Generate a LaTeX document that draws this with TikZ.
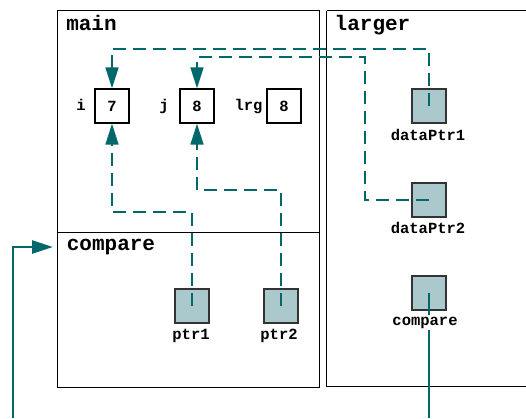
\documentclass[tikz,border=0pt]{standalone}
\usepackage{fontspec}
\setmonofont{Liberation Mono}
\usetikzlibrary{arrows.meta}
\definecolor{tealc}{HTML}{00686B}
\definecolor{ptrfill}{HTML}{ABC9CC}
\newcommand\lblfont{\ttfamily\bfseries\fontsize{15.5}{16}\selectfont}
\newcommand\ttlfont{\ttfamily\bfseries\fontsize{21}{22}\selectfont}
\tikzset{
 frame/.style={draw=black, line width=1.3pt, anchor=north west, inner sep=0pt},
 frameline/.style={draw=black, line width=1.3pt},
 valbox/.style={draw=black, line width=1.3pt, minimum size=34pt, inner sep=0pt, font=\lblfont},
 ptrbox/.style={draw=black!80, fill=ptrfill, line width=1.3pt, minimum size=34pt, inner sep=0pt},
 lbl/.style={font=\lblfont, anchor=base, inner sep=0pt},
 ttl/.style={font=\ttlfont, anchor=base, inner sep=0pt},
 ptrline/.style={draw=tealc, line width=1.6pt, dash pattern=on 13pt off 7pt},
 ptrtip/.style={-{Triangle[length=21pt,width=13pt]}, tealc},
 callline/.style={draw=tealc, line width=2.6pt},
}
\begin{document}
\begin{tikzpicture}[x=1pt,y=-1pt]
\useasboundingbox (0,0) rectangle (526,418);
% frames
\node[frame, minimum width=262pt, minimum height=222pt] (mainf) at (57,10) {};
\node[frame, minimum width=262pt, minimum height=155pt] (cmpf) at (57,232) {};
\coordinate (lgne) at (526,10.5);
\coordinate (lgnw) at (326.5,10.5);
\coordinate (lgsw) at (326.5,386.5);
\coordinate (lgse) at (526,386.5);
\draw[frameline] (lgnw) -- (lgne);
\draw[frameline] (lgnw) -- (lgsw);
\draw[frameline] (lgsw) -- (lgse);
\node[ttl] (tmain) at (91.5,30.5) {main};
\node[ttl] (tlarg) at (372.5,30) {larger};
\node[ttl] (tcmp) at (111,250) {compare};
% value boxes
\node[valbox] (i) at (112,106) {7};
\node[valbox] (j) at (197,106) {8};
\node[valbox] (lrg) at (284,106) {8};
\node[lbl] (li) at (81,110.5) {i};
\node[lbl] (lj) at (164,110.5) {j};
\node[lbl] (llrg) at (248.5,110.5) {lrg};
% pointer boxes
\node[ptrbox] (dp1) at (429,106) {};
\node[ptrbox] (dp2) at (429,200) {};
\node[ptrbox] (cmpp) at (429,293) {};
\node[ptrbox] (p1) at (192,306) {};
\node[ptrbox] (p2) at (281,306) {};
\node[lbl] (ldp1) at (428,140) {dataPtr1};
\node[lbl] (ldp2) at (428,233) {dataPtr2};
\node[lbl] (lp1) at (191,339) {ptr1};
\node[lbl] (lp2) at (279,339) {ptr2};
% pointer connectors
\draw[ptrline, ptrtip] (dp1.center) -- (dp1.center |- 0,49) -- (i.north |- 0,49) -- (i.north);
\draw[ptrline, ptrtip] (dp2.center) -- (365,0 |- dp2.center) -- (365,57) -- (j.north |- 0,57) -- (j.north);
\draw[ptrline, ptrtip] (p1.center) -- (p1.center |- 0,212) -- (i.south |- 0,212) -- (i.south);
\draw[ptrline, ptrtip] (p2.center) -- (p2.center |- 0,190) -- (j.south |- 0,190) -- (j.south);
% call connectors
\coordinate (callstart) at (13,418);
\coordinate (callend) at (53,247);
\draw[callline, -{Triangle[length=21pt,width=13pt]}] (callstart) |- (callend);
\coordinate (cmpend) at (429,418);
\draw[callline] (cmpp.center) -- (cmpend);
\node[lbl, fill=white, inner sep=1.5pt] (lcmp) at (425,325) {compare};
\end{tikzpicture}
\end{document}
